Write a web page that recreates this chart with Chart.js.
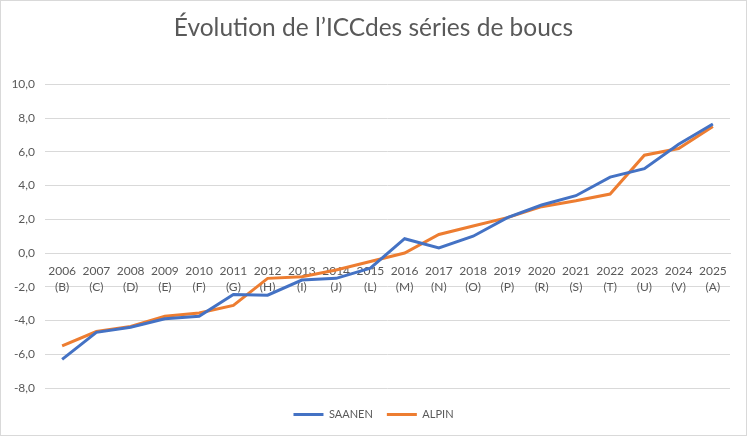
<!DOCTYPE html>
<html lang="fr">
<head>
<meta charset="utf-8">
<title>Évolution de l'ICC</title>
<script src="https://cdn.jsdelivr.net/npm/chart.js@4.4.1/dist/chart.umd.min.js"></script>
<style>
  html, body { margin: 0; padding: 0; background: #ffffff; }
  canvas { display: block; }
</style>
</head>
<body>
<canvas id="icc-chart" width="747" height="436"></canvas>
<script>
// Categories: year + series letter
const years = ['2006', '2007', '2008', '2009', '2010', '2011', '2012', '2013', '2014', '2015',
               '2016', '2017', '2018', '2019', '2020', '2021', '2022', '2023', '2024', '2025'];
const letters = ['(B)', '(C)', '(D)', '(E)', '(F)', '(G)', '(H)', '(I)', '(J)', '(L)',
                 '(M)', '(N)', '(O)', '(P)', '(R)', '(S)', '(T)', '(U)', '(V)', '(A)'];

// Values
const saanen = [-6.3, -4.7, -4.4, -3.9, -3.75, -2.45, -2.5, -1.6, -1.5, -0.9,
                0.85, 0.3, 1.0, 2.1, 2.85, 3.4, 4.5, 5.0, 6.45, 7.65];
const alpin = [-5.5, -4.65, -4.35, -3.75, -3.55, -3.1, -1.5, -1.4, -1.0, -0.5,
               0.0, 1.1, 1.6, 2.1, 2.75, 3.1, 3.5, 5.8, 6.2, 7.5];

const textColor = '#595959';
const gridColor = '#d9d9d9';
const fontFamily = 'Lato, "Open Sans", sans-serif';

// White background and light frame around the chart
const framePlugin = {
    id: 'frame',
    beforeDraw(chart) {
        const ctx = chart.ctx;
        ctx.save();
        ctx.fillStyle = '#ffffff';
        ctx.fillRect(0, 0, chart.width, chart.height);
        ctx.strokeStyle = gridColor;
        ctx.lineWidth = 1;
        ctx.strokeRect(0.5, 0.5, chart.width - 1, chart.height - 1);
        ctx.restore();
    }
};

const labels = years.map((y, i) => [y, letters[i]]);

new Chart(document.getElementById('icc-chart').getContext('2d'), {
    type: 'line',
    data: {
        labels: labels,
        datasets: [
            {
                label: 'SAANEN',
                data: saanen,
                borderColor: '#4472c4',
                backgroundColor: '#4472c4',
                borderWidth: 3,
                pointRadius: 0,
                tension: 0,
                fill: false
            },
            {
                label: 'ALPIN',
                data: alpin,
                borderColor: '#ed7d31',
                backgroundColor: '#ed7d31',
                borderWidth: 3,
                pointRadius: 0,
                tension: 0,
                fill: false
            }
        ]
    },
    options: {
        responsive: false,
        animation: false,
        layout: {
            padding: { left: 10, right: 10, top: 0, bottom: 6 }
        },
        plugins: {
            title: {
                display: true,
                text: 'Évolution de l’ICCdes séries de boucs',
                color: textColor,
                font: { family: fontFamily, size: 24.5, weight: 'normal' },
                padding: { top: 13, bottom: 42 }
            },
            legend: {
                position: 'bottom',
                // empty title only used as spacer above the items
                title: {
                    display: true,
                    text: ' ',
                    font: { size: 5, lineHeight: 1 },
                    padding: { top: 0, bottom: 2 }
                },
                labels: {
                    color: textColor,
                    font: { family: fontFamily, size: 11 },
                    usePointStyle: true,
                    pointStyle: 'line',
                    pointStyleWidth: 30,
                    padding: 14
                }
            },
            tooltip: { enabled: false }
        },
        scales: {
            x: {
                position: { y: 0 },
                offset: true,
                grid: { display: false, drawTicks: false },
                border: { display: true, color: gridColor, width: 1 },
                ticks: {
                    color: textColor,
                    font: { family: fontFamily, size: 12, lineHeight: 1.33 },
                    padding: 10,
                    maxRotation: 0,
                    autoSkip: false
                }
            },
            y: {
                min: -8,
                max: 10,
                afterFit(scale) { scale.width = 35; },
                grid: { color: gridColor, drawTicks: false },
                border: { display: false },
                ticks: {
                    stepSize: 2,
                    color: textColor,
                    font: { family: fontFamily, size: 12 },
                    padding: 10,
                    callback: (v) => v.toFixed(1).replace('.', ',')
                }
            },
            // empty right axis, only keeps a small margin on the right
            yRight: {
                position: 'right',
                afterFit(scale) { scale.width = 7; },
                grid: { display: false },
                border: { display: false },
                ticks: { display: false }
            }
        }
    },
    plugins: [framePlugin]
});
</script>
</body>
</html>
